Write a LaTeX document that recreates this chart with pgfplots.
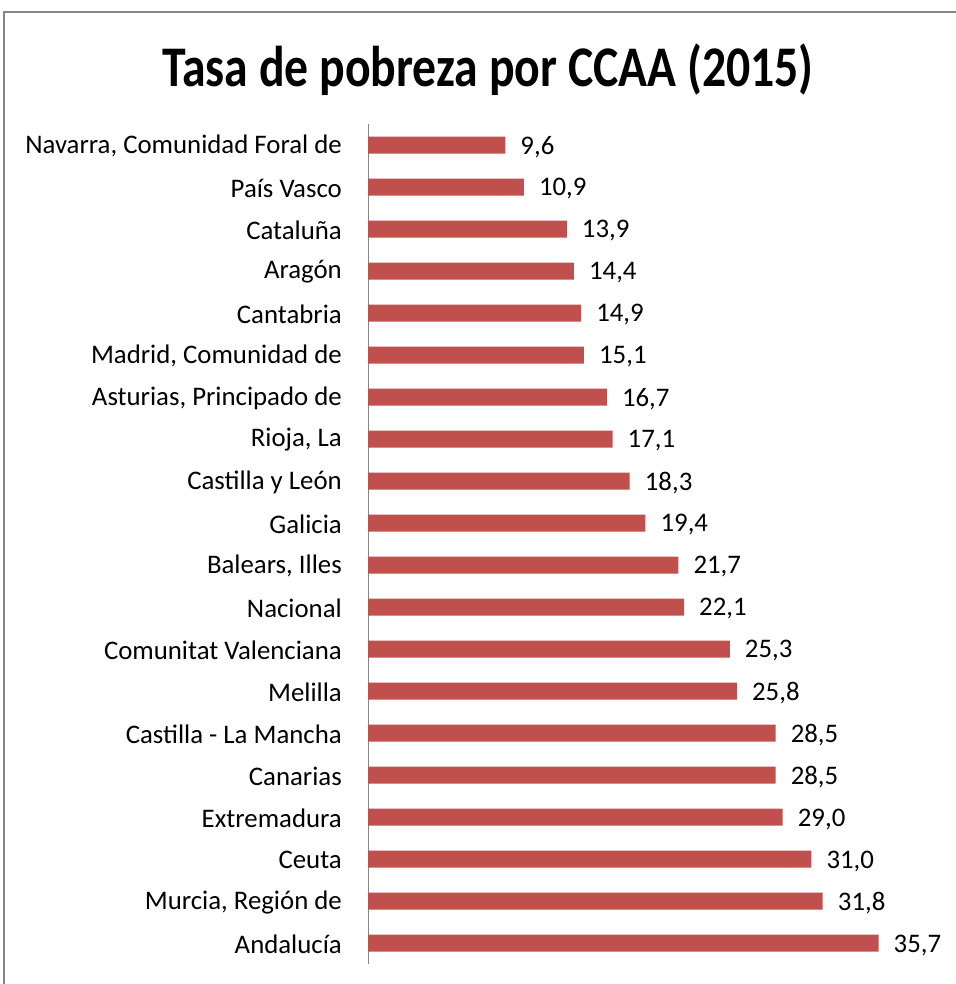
\documentclass[border=0pt]{standalone}
\usepackage{pgfplots}
\pgfplotsset{compat=1.18}
\usepackage{fontspec}
\setmainfont{Carlito}
\newfontfamily\titlefont[FakeStretch=0.83]{Carlito}
\definecolor{barred}{HTML}{C0504D}
\definecolor{framegray}{HTML}{868686}
\begin{document}
\begin{tikzpicture}
\useasboundingbox (0pt,0pt) rectangle (955pt,-984pt);
\draw[framegray, line width=2.5pt] (4pt,-990pt) -- (4pt,-12pt) -- (960pt,-12pt);
\node[font=\titlefont\fontsize{57.5}{66}\selectfont\bfseries, inner sep=0pt] at (488pt,-70pt) {Tasa de pobreza por CCAA (2015)};
\begin{axis}[
  at={(368pt,-124pt)}, anchor=north west,
  scale only axis, width=572pt, height=840pt,
  xmin=0, xmax=40, ymin=-0.5, ymax=19.5,
  y dir=reverse,
  xbar, bar width=17pt,
  axis x line=none,
  axis y line*=left,
  axis line style={draw=framegray, line width=1pt},
  ytick={0,...,19},
  yticklabels={{Navarra, Comunidad Foral de},{País Vasco},{Cataluña},{Aragón},{Cantabria},{Madrid, Comunidad de},{Asturias, Principado de},{Rioja, La},{Castilla y León},{Galicia},{Balears, Illes},{Nacional},{Comunitat Valenciana},{Melilla},{Castilla - La Mancha},{Canarias},{Extremadura},{Ceuta},{Murcia, Región de},{Andalucía}},
  major tick length=0pt,
  y tick label style={font=\fontsize{26.8}{30}\selectfont, inner sep=0pt, anchor=east, xshift=-26pt, yshift=-1pt},
  clip=false,
  point meta=x,
  /pgf/number format/assume math mode=true,
  nodes near coords={\pgfmathprintnumber[fixed,fixed zerofill,precision=1,use comma,assume math mode=true]{\pgfplotspointmeta}},
  nodes near coords style={anchor=west, inner sep=0pt, xshift=15pt, yshift=-2pt, font=\fontsize{26.8}{30}\selectfont, text=black},
]
\addplot[fill=barred, draw=none] coordinates {
(9.6,0) (10.9,1) (13.9,2) (14.4,3) (14.9,4) (15.1,5) (16.7,6) (17.1,7) (18.3,8) (19.4,9)
(21.7,10) (22.1,11) (25.3,12) (25.8,13) (28.5,14) (28.5,15) (29.0,16) (31.0,17) (31.8,18) (35.7,19)
};
\end{axis}
\end{tikzpicture}
\end{document}
